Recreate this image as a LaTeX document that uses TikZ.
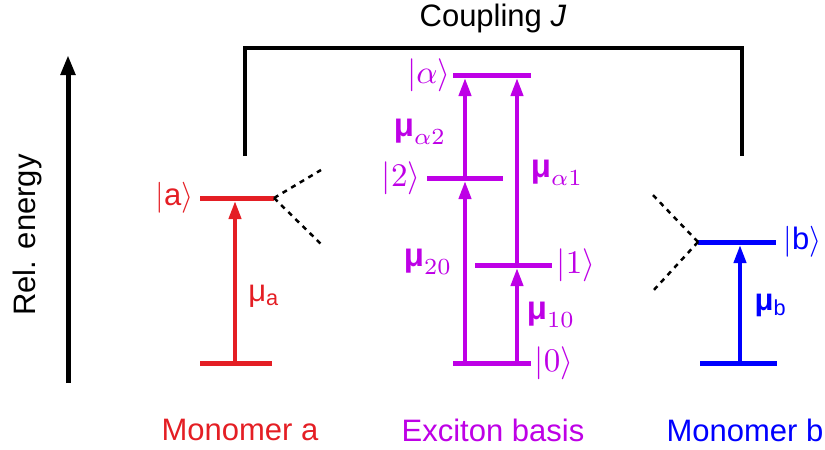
\documentclass[tikz,border=0pt]{standalone}
\usepackage{amsmath}
\usepackage{bm}
\usepackage{fontspec}
\setmainfont{Liberation Sans}
\usetikzlibrary{arrows.meta}
\definecolor{cred}{RGB}{228,30,36}
\definecolor{cpur}{RGB}{190,0,230}
\definecolor{cblu}{RGB}{0,0,255}
\tikzset{
  lvl/.style={line width=5pt},
  trans/.style={line width=4pt,-{Triangle[length=18pt,width=12pt]}},
  coup/.style={line width=2.5pt,dash pattern=on 5pt off 5pt},
  ttl/.style={font=\fontsize{31}{36}\selectfont},
  mlab/.style={font=\fontsize{10}{12}\selectfont,inner sep=0pt,scale=3.3},
  slab/.style={font=\fontsize{10}{12}\selectfont,inner sep=0pt,scale=3.1},
}
\newcommand{\bmu}{\text{\bfseries μ}}
\begin{document}
\begin{tikzpicture}[x=1pt,y=-1pt]
\useasboundingbox (0,0) rectangle (825,450);
% axis
\coordinate (ax0) at (68,383);
\coordinate (ax1) at (68,55);
\draw[line width=5pt,-{Triangle[length=20pt,width=14pt]}] (ax0) -- (ax1);
\node[ttl,rotate=90] (rel) at (27,235) {Rel. energy};
% coupling bracket
\coordinate (ca) at (245,156);
\coordinate (cb) at (742,156);
\draw[line width=3.5pt] (ca) |- (493,48) -| (cb);
\node[ttl] (coupling) at (493,18) {Coupling \textit{J}};
% monomer a
\begin{scope}[cred]
\coordinate (a1l) at (200,198); \coordinate (a1r) at (274,198);
\coordinate (a0l) at (200,363); \coordinate (a0r) at (272,363);
\draw[lvl] (a1l) -- (a1r);
\draw[lvl] (a0l) -- (a0r);
\draw[trans] (235,363) -- (235,201);
\node[slab,anchor=east] (ka) at (194,198) {$|$a$\rangle$};
\node[slab] (mua) at (264,296) {μ\textsubscript{a}};
\node[ttl] (mona) at (240,430) {Monomer a};
\end{scope}
\coordinate (da1) at (321,170);
\coordinate (da2) at (323,246);
\draw[coup] (a1r) -- (da1);
\draw[coup] (a1r) -- (da2);
% monomer b
\begin{scope}[cblu]
\coordinate (b1l) at (698,242); \coordinate (b1r) at (776,242);
\coordinate (b0l) at (700,363); \coordinate (b0r) at (777,363);
\draw[lvl] (b1l) -- (b1r);
\draw[lvl] (b0l) -- (b0r);
\draw[trans] (740,363) -- (740,245);
\node[slab,anchor=west] (kb) at (783,242) {$|$b$\rangle$};
\node[slab] (mub) at (771,305) {\bfseries μ\textsubscript{\mdseries b}};
\node[ttl] (monb) at (745,430) {Monomer b};
\end{scope}
\coordinate (db1) at (650,192);
\coordinate (db2) at (652,292);
\draw[coup] (b1l) -- (db1);
\draw[coup] (b1l) -- (db2);
% exciton basis
\begin{scope}[cpur]
\coordinate (al) at (453,75); \coordinate (ar) at (531,75);
\coordinate (tl) at (427,178); \coordinate (tr) at (503,178);
\coordinate (ol) at (475,265); \coordinate (or) at (552,265);
\coordinate (zl) at (453,363); \coordinate (zr) at (531,363);
\draw[lvl] (al) -- (ar);
\draw[lvl] (tl) -- (tr);
\draw[lvl] (ol) -- (or);
\draw[lvl] (zl) -- (zr);
\draw[trans] (465,363) -- (465,181);
\draw[trans] (465,178) -- (465,78);
\draw[trans] (517,363) -- (517,268);
\draw[trans] (517,265) -- (517,78);
\node[mlab,anchor=east] (kal) at (451,75) {$|\alpha\rangle$};
\node[mlab,anchor=east] (k2) at (421,178) {$|2\rangle$};
\node[mlab,anchor=west] (k1) at (556,265) {$|1\rangle$};
\node[mlab,anchor=west] (k0) at (534,363) {$|0\rangle$};
\node[mlab] (ma2) at (420,132) {$\bmu_{\alpha2}$};
\node[mlab] (ma1) at (557,173) {$\bmu_{\alpha1}$};
\node[mlab] (m20) at (428,262) {$\bmu_{20}$};
\node[mlab] (m10) at (551,315) {$\bmu_{10}$};
\node[ttl] (exc) at (493,430) {Exciton basis};
\end{scope}
\end{tikzpicture}
\end{document}
